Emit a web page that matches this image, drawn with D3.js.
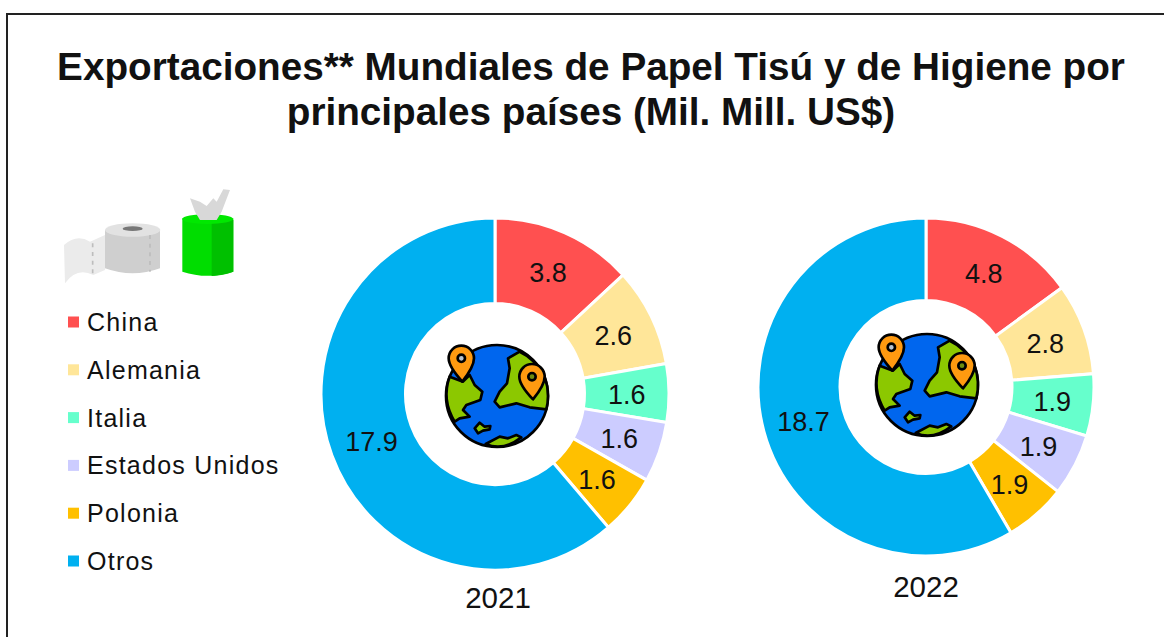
<!DOCTYPE html>
<html>
<head>
<meta charset="utf-8">
<script src="https://cdn.jsdelivr.net/npm/d3@7"></script>
<style>
html,body{margin:0;padding:0;background:#fff;overflow:hidden}
svg{display:block}
text{font-family:"Liberation Sans",Arial,sans-serif;fill:#111}
</style>
</head>
<body>
<svg id="c" width="1164" height="637"></svg>
<script>
const titleLines = ["Exportaciones** Mundiales de Papel Tisú y de Higiene por", "principales países (Mil. Mill. US$)"];
const categories = ["China", "Alemania", "Italia", "Estados Unidos", "Polonia", "Otros"];
const colors = ["#FF5050", "#FFE699", "#66FFCC", "#CCCCFF", "#FFC000", "#00B0F0"];
const values2021 = [3.84, 2.64, 1.56, 1.62, 1.62, 17.87];
const values2022 = [4.8, 2.8, 1.9, 1.9, 1.9, 18.7];
const years = ["2021", "2022"];

const svg = d3.select("#c");
svg.append("path").attr("d", "M7,637V14H1164").attr("fill", "none").attr("stroke", "#222").attr("stroke-width", 2);

const defs = svg.append("defs");
defs.append("filter").attr("id", "soft").append("feGaussianBlur").attr("stdDeviation", 0.7);

svg.selectAll("text.title").data(titleLines).join("text").attr("class", "title")
  .attr("x", 591).attr("y", (d, i) => 80 + i * 45)
  .attr("text-anchor", "middle").attr("font-size", 38.7).attr("font-weight", "bold").text(d => d);

const color = d3.scaleOrdinal(categories, colors);
const legendY = d3.scalePoint(categories, [322, 561]);
const legend = svg.append("g").selectAll("g").data(categories).join("g")
  .attr("transform", d => `translate(0,${legendY(d)})`);
legend.append("rect").attr("x", 68).attr("y", -5.5).attr("width", 11).attr("height", 11).attr("fill", d => color(d));
legend.append("text").attr("x", 87).attr("y", 9).attr("font-size", 25).attr("letter-spacing", 1.25).attr("fill", "#222").text(d => d);

const pie = d3.pie().sort(null);
const fmt = d3.format(".1f");
function donut(values, year, cx, cy, rOuter, rInner, stretchY, yearX, yearY) {
  const g = svg.append("g").attr("transform", `translate(${cx},${cy}) scale(1,${stretchY})`);
  const arc = d3.arc().innerRadius(rInner).outerRadius(rOuter);
  const arcs = pie(values);
  g.selectAll("path").data(arcs).join("path")
    .attr("d", arc).attr("fill", (d, i) => colors[i]).attr("stroke", "#fff").attr("stroke-width", 3);
  g.selectAll("text").data(arcs).join("text")
    .attr("transform", d => `translate(${arc.centroid(d)})`)
    .attr("text-anchor", "middle").attr("dy", "0.38em").attr("font-size", 27)
    .text(d => fmt(d.value));
  svg.append("text").attr("x", yearX).attr("y", yearY).attr("text-anchor", "middle").attr("font-size", 29.5).text(year);
}
donut(values2021, years[0], 495, 394, 174, 89.5, 1.012, 498, 608);
donut(values2022, years[1], 926, 387, 168, 86, 1.006, 926, 597);

function globe(cx, cy) {
  const g = svg.append("g").attr("transform", `translate(${cx},${cy}) scale(${1 / 3}) translate(-232,-228)`)
    .attr("stroke", "#000").attr("stroke-width", 8).attr("stroke-linejoin", "round");
  g.append("circle").attr("cx", 232).attr("cy", 228).attr("r", 153).attr("fill", "#0066EE");
  const land = [
    "M90,170L130,185L150,165L165,195L188,215L182,240L140,255L130,270L150,290L120,295L105,305Q65,240 90,170Z",
    "M300,95L265,115L270,145L262,190L240,215L225,245L240,262L290,250L330,262L380,268Q392,220 375,170Q345,115 300,95Z",
    "M198,372L240,350L265,355L290,345L305,352Q250,395 198,372Z",
    "M165,325L180,308L195,320L212,318L210,328L190,332L175,340Z"
  ];
  g.selectAll("path.land").data(land).join("path").attr("class", "land").attr("d", d => d).attr("fill", "#8CC800");
  const pins = [[125, 115, 185, "#B8C4D0"], [337, 170, 238, "#6E8C10"]];
  pins.forEach(([x, y, t, c]) => {
    g.append("path").attr("d", `M${x - 38},${y}A38,38 0 1 1 ${x + 38},${y}Q${x + 38},${y + 25} ${x + 3},${t}Q${x - 38},${y + 25} ${x - 38},${y}Z`).attr("fill", "#FF9A10");
    g.append("circle").attr("cx", x).attr("cy", y).attr("r", 11).attr("fill", c);
  });
}
globe(497, 396);
globe(927, 385);

const icons = svg.append("g").attr("filter", "url(#soft)").attr("transform", "translate(40,170) scale(0.3333)");
icons.append("path").attr("d", "M72,225Q110,190 150,215L195,195V300L160,315Q110,290 75,340Z").attr("fill", "#EBEBEB");
icons.append("path").attr("d", "M195,180V295Q278,325 360,295V180Z").attr("fill", "#CFCFCF");
icons.append("ellipse").attr("cx", 278).attr("cy", 180).attr("rx", 83).attr("ry", 20).attr("fill", "#E2E2E2");
icons.append("ellipse").attr("cx", 278).attr("cy", 176).attr("rx", 30).attr("ry", 7).attr("fill", "#777");
icons.append("path").attr("d", "M158,220V312M330,195V305").attr("stroke", "#BDBDBD").attr("stroke-width", 5).attr("stroke-dasharray", "12 14").attr("fill", "none");
icons.append("path").attr("d", "M427,145V305Q503,330 580,305V145Z").attr("fill", "#00DD00");
icons.append("path").attr("d", "M515,150H580V305Q550,316 515,318Z").attr("fill", "#00C000");
icons.append("ellipse").attr("cx", 503).attr("cy", 147).attr("rx", 76).attr("ry", 15).attr("fill", "#00E800");
icons.append("path").attr("d", "M465,125L450,85L480,95L500,108L520,85L530,95L550,58L570,60L545,125L530,150L480,150Z").attr("fill", "#D8D8D8");
</script>
</body>
</html>
